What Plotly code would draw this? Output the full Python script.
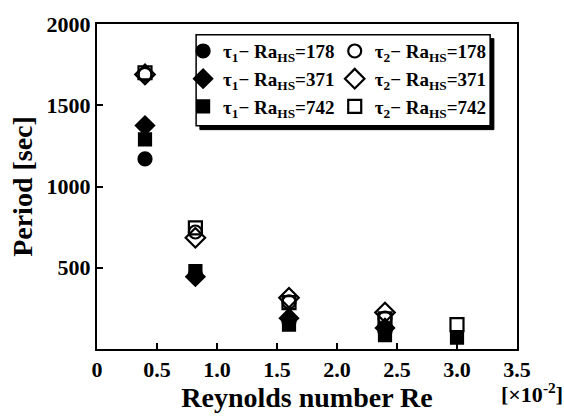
import plotly.graph_objects as go

# Data (Reynolds number Re [x10^-2], Period [sec])
re_178_t1 = [0.4, 0.82, 1.6, 2.4]
p_178_t1 = [1170, 460, 170, 110]
re_178_t2 = [0.4, 0.82, 1.6, 2.4]
p_178_t2 = [1690, 720, 290, 190]

re_371_t1 = [0.4, 0.82, 1.6, 2.4]
p_371_t1 = [1375, 445, 190, 130]
re_371_t2 = [0.4, 0.82, 1.6, 2.4]
p_371_t2 = [1690, 685, 315, 225]

re_742_t1 = [0.4, 0.82, 1.6, 2.4, 3.0]
p_742_t1 = [1290, 480, 150, 85, 70]
re_742_t2 = [0.4, 0.82, 1.6, 2.4, 3.0]
p_742_t2 = [1700, 745, 285, 185, 150]

x_ticks = [0, 0.5, 1.0, 1.5, 2.0, 2.5, 3.0, 3.5]
x_tick_labels = ["0", "0.5", "1.0", "1.5", "2.0", "2.5", "3.0", "3.5"]
y_ticks = [500, 1000, 1500, 2000]
y_tick_labels = ["500", "1000", "1500", "2000"]

FONT = "Liberation Serif"
fig = go.Figure()

def lab(t, ra):
    return f"<b>τ<sub>{t}</sub>− Ra<sub>HS</sub>={ra}</b>"

specs = [
    (re_178_t1, p_178_t1, "circle", 13, lab(1, 178), "legend"),
    (re_371_t1, p_371_t1, "diamond", 14, lab(1, 371), "legend"),
    (re_742_t1, p_742_t1, "square", 12, lab(1, 742), "legend"),
    (re_178_t2, p_178_t2, "circle-open", 13, lab(2, 178), "legend2"),
    (re_371_t2, p_371_t2, "diamond-open", 15, lab(2, 371), "legend2"),
    (re_742_t2, p_742_t2, "square-open", 13, lab(2, 742), "legend2"),
]
for xs, ys, sym, sz, name, lg in specs:
    fig.add_trace(go.Scatter(
        x=xs, y=ys, mode="markers", name=name, legend=lg,
        marker=dict(symbol=sym, size=sz, color="black",
                    line=dict(color="black", width=2.2)),
    ))

# legend frame with shadow
fig.add_shape(type="rect", xref="paper", yref="paper",
              x0=0.245, x1=0.945, y0=0.675, y1=0.955,
              fillcolor="black", line=dict(color="black", width=1))
fig.add_shape(type="rect", xref="paper", yref="paper",
              x0=0.236, x1=0.936, y0=0.687, y1=0.967,
              fillcolor="white", line=dict(color="black", width=1.5))

fig.add_annotation(text="<b>[×10<sup>-2</sup>]</b>", xref="paper", yref="paper",
                   x=0.958, y=-0.135, xanchor="left", yanchor="middle",
                   showarrow=False, font=dict(family=FONT, size=22, color="black"))

leg_common = dict(bgcolor="rgba(0,0,0,0)", borderwidth=0,
                  font=dict(family=FONT, size=19, color="black"),
                  xanchor="left", yanchor="top", tracegroupgap=0)
tickfont = dict(family=FONT, size=22, color="black", weight="bold")
fig.update_layout(
    width=564, height=416,
    margin=dict(l=97, r=47, t=21, b=59),
    paper_bgcolor="white", plot_bgcolor="white",
    legend=dict(x=0.205, y=0.975, **leg_common),
    legend2=dict(x=0.566, y=0.975, **leg_common),
    xaxis=dict(range=[0, 3.5], tickvals=x_ticks, ticktext=x_tick_labels,
               ticks="inside", ticklen=6, tickwidth=2, tickcolor="black",
               showline=True, linewidth=2, linecolor="black", mirror=True,
               showgrid=False, zeroline=False, tickfont=tickfont,
               title=dict(text="<b>Reynolds number Re</b>", standoff=2,
                          font=dict(family=FONT, size=28, color="black"))),
    yaxis=dict(range=[0, 2000], tickvals=y_ticks, ticktext=y_tick_labels,
               ticks="inside", ticklen=6, tickwidth=2, tickcolor="black",
               showline=True, linewidth=2, linecolor="black", mirror=True,
               showgrid=False, zeroline=False, tickfont=tickfont,
               title=dict(text="<b>Period [sec]</b>", standoff=6,
                          font=dict(family=FONT, size=28, color="black"))),
)

fig.write_html("out.html")
